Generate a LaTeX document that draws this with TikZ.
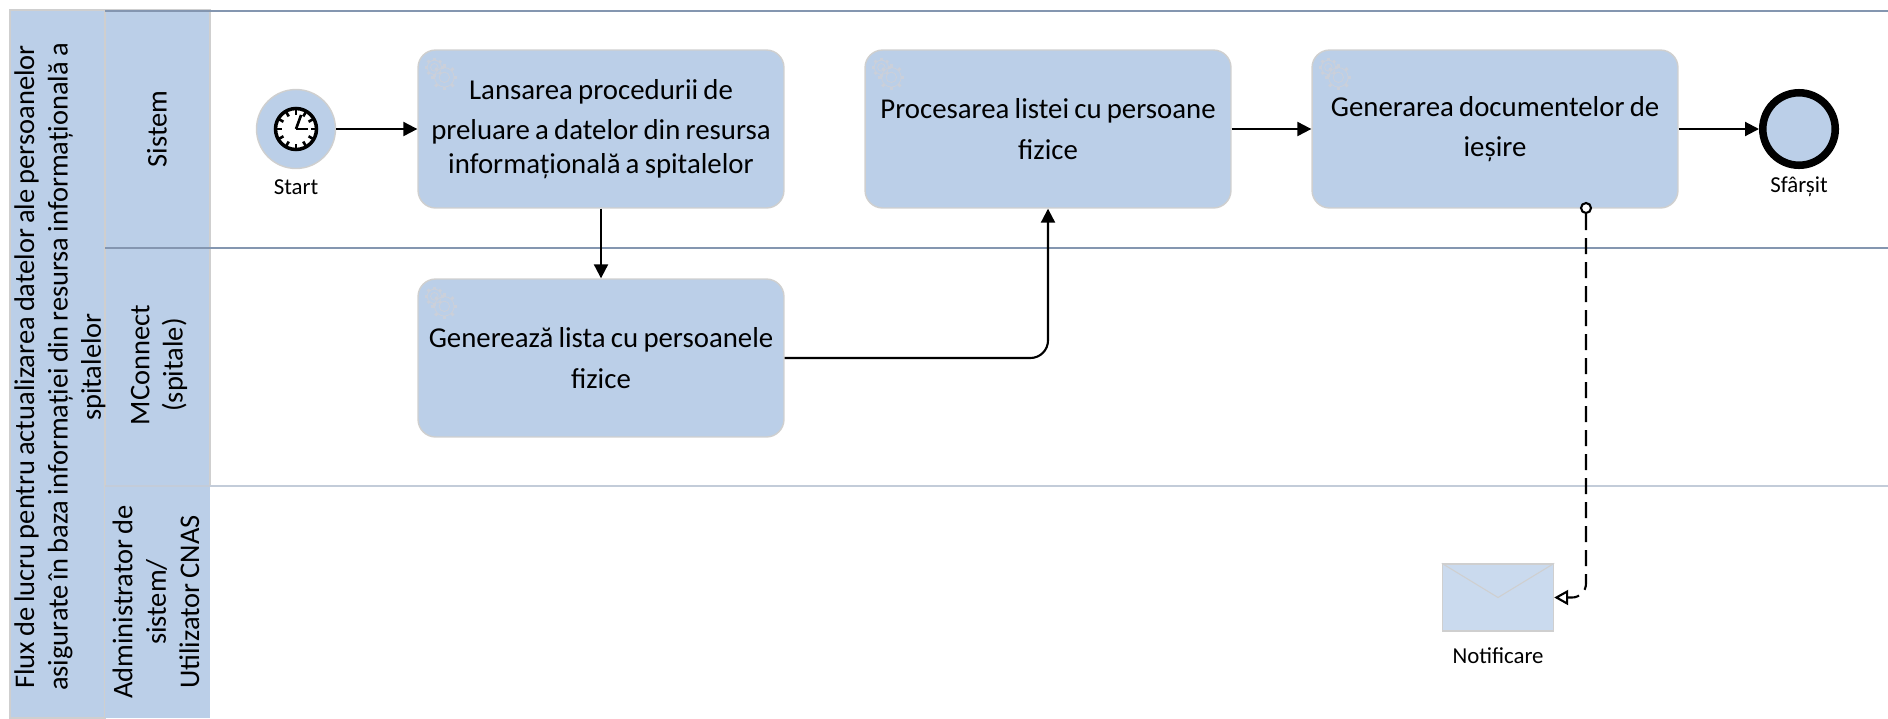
\documentclass[tikz,border=0pt]{standalone}
\usepackage{fontspec}
\setmainfont[WordSpace=0.8]{Carlito}
\usepackage{tikz}
\usetikzlibrary{arrows.meta}
\definecolor{bandblue}{HTML}{BBCFE8}
\definecolor{lightblue}{HTML}{CADAEE}
\definecolor{edgegray}{HTML}{CFCFCF}
\definecolor{laneline}{HTML}{8496B0}
\definecolor{lanelight}{HTML}{C3CCD9}
\definecolor{gearcol}{HTML}{CBD0DA}
\tikzset{
  band/.style={draw=edgegray,line width=1pt,fill=bandblue,inner sep=0pt},
  bandtext/.style={rotate=90,align=center,font=\fontsize{16.2}{19}\selectfont,inner sep=0pt},
  task/.style={draw=edgegray,line width=0.8pt,fill=bandblue,rounded corners=10pt,minimum width=7.32cm,minimum height=3.16cm,
    align=flush center,text width=7.1cm,inner sep=0pt,font=\fontsize{16.4}{19.2}\selectfont,
    execute at begin node={\setlength{\lineskiplimit}{-5pt}\vspace*{0.14cm}}},
  smalltext/.style={font=\fontsize{13}{15}\selectfont,inner sep=0pt},
  flow/.style={line width=1.2pt,-{Triangle[length=0.28cm,width=0.28cm]}},
  pics/gear/.style={code={
    \draw[gearcol,line width=0.5pt] (0,0) circle (#1*0.4);
    \draw[gearcol,line width=0.5pt] (0,0) circle (#1*0.75);
    \foreach \b in {0,45,...,315}
      \draw[gearcol,line width=1.6pt] (\b:#1*0.75) -- (\b:#1);
  }}
}
\begin{document}
\begin{tikzpicture}[x=0.02cm,y=-0.02cm]
  \useasboundingbox (0,0) rectangle (1888,718);
  % lanes
  \path[band] (10,10) rectangle (105,718);
  \path[band] (105,10) rectangle (210,248);
  \path[band] (105,248) rectangle (210,486);
  \path[band,draw=none] (105,486) rectangle (210,718);
  \draw[laneline,line width=1.3pt] (105,11) -- (1888,11);
  \draw[laneline,line width=1.3pt] (105,248) -- (1888,248);
  \draw[lanelight,line width=1.3pt] (105,486) -- (1888,486);
  \node[bandtext] (title) at (60,367) {Flux de lucru pentru actualizarea datelor ale persoanelor\\asigurate în baza informației din resursa informațională a\\spitalelor};
  \node[bandtext] (sistem) at (157,129) {Sistem};
  \node[bandtext] (mconnect) at (159,365) {MConnect\\(spitale)};
  \node[bandtext] (admin) at (156,602) {Administrator de\\sistem/\\Utilizator CNAS};
  % events
  \node[circle,draw=edgegray,line width=0.8pt,fill=bandblue,minimum size=1.58cm,inner sep=0pt] (start) at (296,129) {};
  \node[circle,draw=black,line width=2pt,fill=white,minimum size=0.82cm,inner sep=0pt] (clock) at (296,129) {};
  \foreach \a in {0,30,...,330}
    \draw[line width=1.5pt] (clock.center) ++(\a:0.42cm) -- ++(\a+180:0.13cm);
  \draw[line width=1.5pt] (clock.center) -- ++(70:0.3cm);
  \draw[line width=1.5pt] (clock.center) -- ++(0:0.24cm);
  \node[smalltext] (startlabel) at (296,187) {Start};
  \node[circle,draw=black,line width=4.3pt,fill=bandblue,minimum size=1.45cm,inner sep=0pt] (end) at (1799,129) {};
  \node[smalltext] (endlabel) at (1799,187) {Sfârșit};
  % tasks
  \node[task] (launch) at (601,129) {Lansarea procedurii de\\preluare a datelor din resursa\\informațională a spitalelor};
  \node[task] (process) at (1048,129) {Procesarea listei cu persoane\\fizice};
  \node[task] (output) at (1495,129) {Generarea documentelor de\\ieșire};
  \node[task] (generate) at (601,358) {Generează lista cu persoanele\\fizice};
  \foreach \t in {launch,process,output,generate}{
    \pic at ([shift={(17,18)}]\t.north west) {gear=0.19cm};
    \pic at ([shift={(27,28)}]\t.north west) {gear=0.26cm};
  }
  % notification
  \node[draw=edgegray,line width=0.8pt,fill=lightblue,minimum width=2.22cm,minimum height=1.34cm,inner sep=0pt] (notif) at (1498,597.5) {};
  \draw[edgegray,line width=0.6pt] (notif.north west) -- (notif.center) -- (notif.north east);
  \node[smalltext] (notiflabel) at (1498,656) {Notificare};
  % flows
  \draw[flow] (start) -- (launch);
  \draw[flow] (launch) -- (generate);
  \draw[flow] (process) -- (output);
  \draw[flow] (output) -- (end);
  \draw[flow,rounded corners=10pt] (generate.east) -- (process.south |- generate.east) -- (process.south);
  \node[circle,draw=black,line width=1.2pt,fill=white,minimum size=0.2cm,inner sep=0pt] (assoc) at (1586,208) {};
  \draw[line width=1.2pt,dash pattern=on 0.32cm off 0.16cm,rounded corners=8pt,-{Triangle[open,fill=white,length=0.28cm,width=0.3cm]}]
    (assoc.south) -- (assoc.south |- notif.east) -- (notif.east);
\end{tikzpicture}
\end{document}
